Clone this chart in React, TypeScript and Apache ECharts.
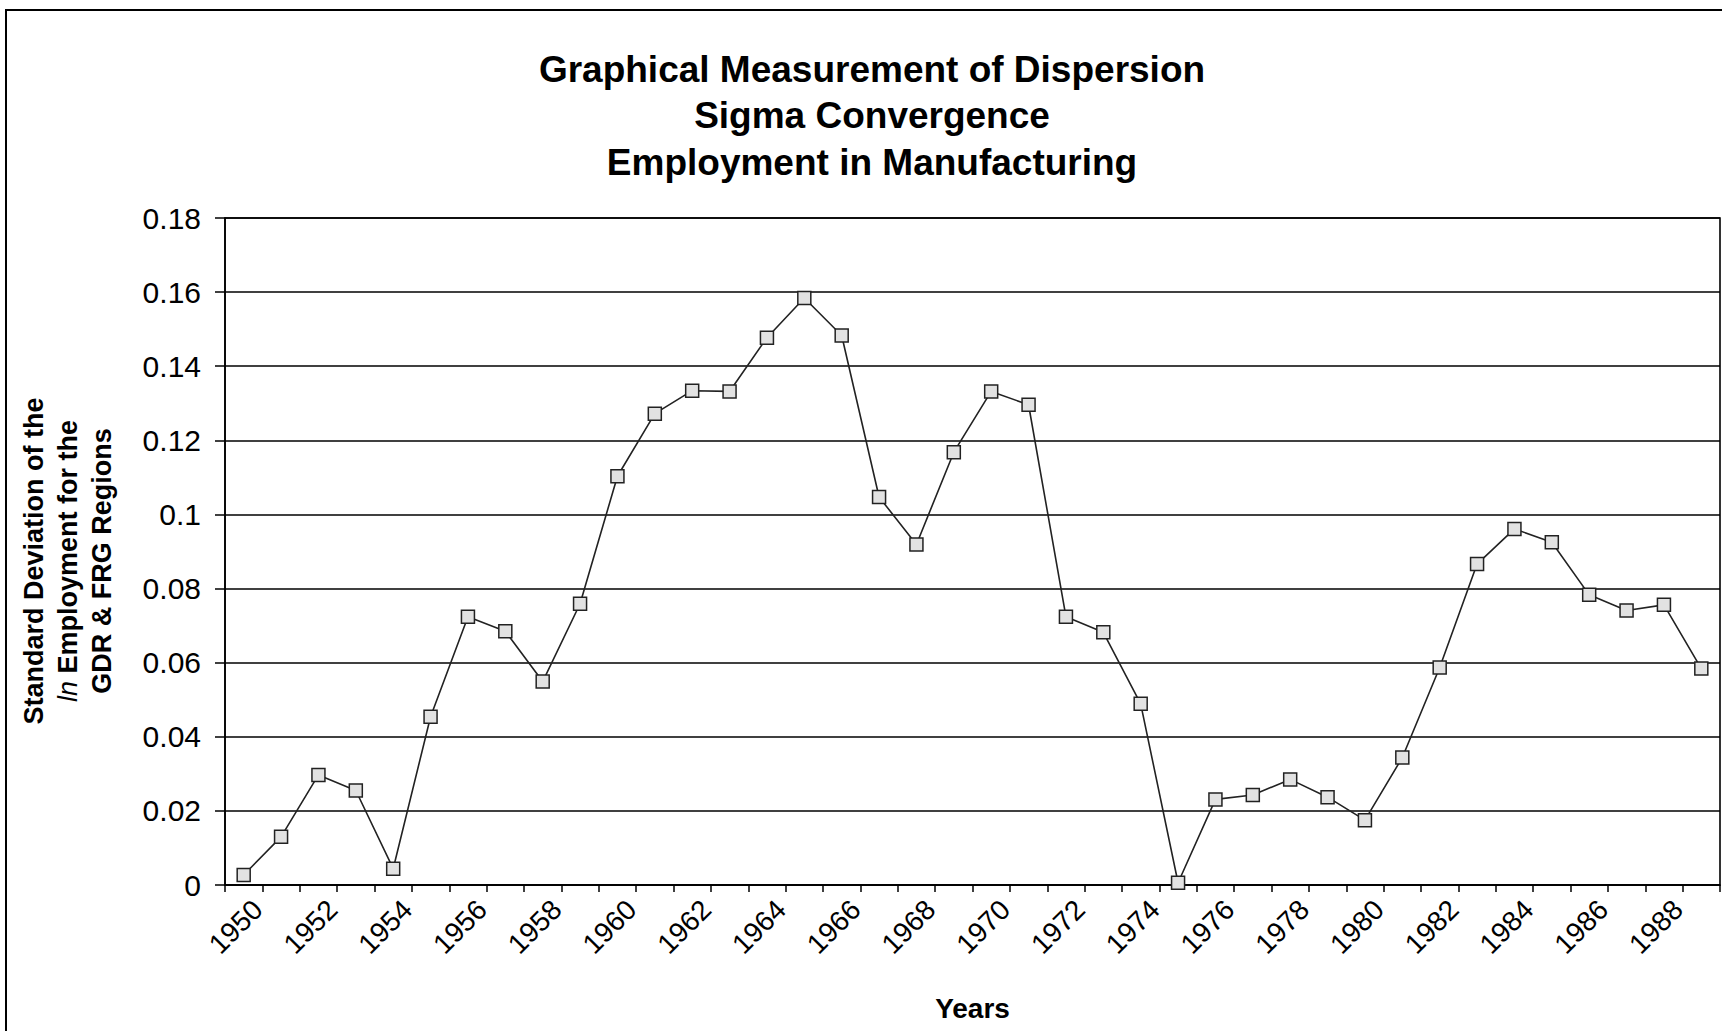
import React, { useEffect, useRef } from "react";
import * as echarts from "echarts";

const years: string[] = [
  "1950", "1951", "1952", "1953", "1954", "1955", "1956", "1957", "1958", "1959",
  "1960", "1961", "1962", "1963", "1964", "1965", "1966", "1967", "1968", "1969",
  "1970", "1971", "1972", "1973", "1974", "1975", "1976", "1977", "1978", "1979",
  "1980", "1981", "1982", "1983", "1984", "1985", "1986", "1987", "1988", "1989",
];

const sigmaValues: number[] = [
  0.0027, 0.013, 0.0297, 0.0255, 0.0044, 0.0454, 0.0724, 0.0685, 0.0549, 0.0759,
  0.1103, 0.1272, 0.1334, 0.1332, 0.1477, 0.1584, 0.1483, 0.1047, 0.0919, 0.1168,
  0.1332, 0.1296, 0.0724, 0.0682, 0.0489, 0.0006, 0.0231, 0.0243, 0.0285, 0.0237,
  0.0175, 0.0344, 0.0587, 0.0866, 0.0961, 0.0925, 0.0783, 0.0741, 0.0756, 0.0584,
];

const titleLines: string[] = [
  "Graphical Measurement of Dispersion",
  "Sigma Convergence",
  "Employment in Manufacturing",
];

const FONT = "'Liberation Sans', Arial, Helvetica, sans-serif";

export default function App() {
  const ref = useRef<HTMLDivElement>(null);

  useEffect(() => {
    if (!ref.current) return;
    const chart = echarts.init(ref.current, null, { renderer: "svg" });
    chart.setOption({
      animation: false,
      backgroundColor: "#ffffff",
      textStyle: { fontFamily: FONT },
      title: {
        text: titleLines.join("\n"),
        left: 867,
        top: 41,
        textAlign: "center",
        textStyle: {
          fontFamily: FONT,
          fontSize: 37,
          fontWeight: "bold",
          color: "#000",
          lineHeight: 46.5,
        },
      },
      graphic: [
        {
          type: "rect",
          shape: { x: 6, y: 10, width: 1760, height: 1060 },
          style: { fill: "none", stroke: "#000", lineWidth: 2 },
          silent: true,
          z: 100,
        },
        {
          type: "text",
          x: 68,
          y: 561,
          rotation: Math.PI / 2,
          silent: true,
          style: {
            text: "{b|Standard Deviation of the}\n{i|ln}{b| Employment for the}\n{b|GDR & FRG Regions}",
            align: "center",
            verticalAlign: "middle",
            rich: {
              b: {
                fontFamily: FONT,
                fontSize: 27,
                fontWeight: "bold",
                fill: "#000",
                lineHeight: 34,
              },
              i: {
                fontFamily: FONT,
                fontSize: 27,
                fontWeight: "normal",
                fontStyle: "italic",
                fill: "#000",
                lineHeight: 34,
              },
            },
          },
        },
      ],
      grid: {
        left: 225,
        top: 218,
        right: 2,
        bottom: 146,
        show: true,
        borderColor: "#000",
        borderWidth: 1.6,
        backgroundColor: "transparent",
      },
      xAxis: {
        type: "category",
        data: years,
        boundaryGap: true,
        name: "Years",
        nameLocation: "middle",
        nameGap: 109,
        nameTextStyle: {
          fontFamily: FONT,
          fontSize: 28,
          fontWeight: "bold",
          color: "#000",
        },
        axisLine: { show: true, lineStyle: { color: "#000", width: 1.6 } },
        axisTick: {
          show: true,
          interval: 0,
          alignWithLabel: false,
          length: 7,
          lineStyle: { color: "#000", width: 1.5 },
        },
        axisLabel: {
          interval: 1,
          rotate: 45,
          margin: 34,
          padding: [0, -20, 0, 0],
          fontFamily: FONT,
          fontSize: 28,
          color: "#000",
        },
        splitLine: { show: false },
      },
      yAxis: {
        type: "value",
        min: 0,
        max: 0.18,
        interval: 0.02,
        axisLine: { show: true, lineStyle: { color: "#000", width: 1.6 } },
        axisTick: { show: true, length: 10, lineStyle: { color: "#000", width: 1.5 } },
        axisLabel: {
          margin: 24,
          fontFamily: FONT,
          fontSize: 30,
          color: "#000",
        },
        splitLine: { show: true, lineStyle: { color: "#000", width: 1.7 } },
      },
      series: [
        {
          type: "line",
          data: sigmaValues,
          symbol: "rect",
          symbolSize: 13,
          showAllSymbol: true,
          lineStyle: { color: "#222", width: 1.6 },
          itemStyle: { color: "#e2e2e2", borderColor: "#222", borderWidth: 1.5 },
          z: 3,
        },
      ],
    });
    return () => chart.dispose();
  }, []);

  return (
    <div
      ref={ref}
      style={{ position: "fixed", left: 0, top: 0, width: 1722, height: 1031 }}
    />
  );
}
